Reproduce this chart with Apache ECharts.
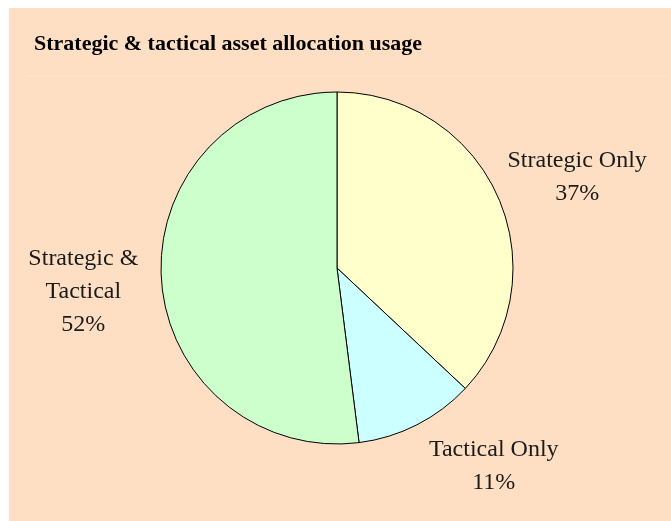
<!DOCTYPE html>
<html>
<head>
<meta charset="utf-8">
<script src="https://cdn.jsdelivr.net/npm/echarts@6/dist/echarts.min.js"></script>
<style>
html,body{margin:0;padding:0;background:#fff;}
#chart{width:671px;height:521px;}
</style>
</head>
<body>
<div id="chart"></div>
<script>
// ---- data ----
const titleText = 'Strategic & tactical asset allocation usage';
const categories = ['Strategic Only', 'Tactical Only', 'Strategic &\nTactical'];
const values = [37, 11, 52];
const sliceColors = ['#FFFFCC', '#CCFFFF', '#CCFFCC'];

// ---- label placement tuning (style, not data) ----
const labelLen = [53, 46, 0];
const labelLen2 = [30, 56, 78];
const labelShiftY = [0, 0, 13];

const peach = '#FEDFC3';
const serif = '"Liberation Serif", "Times New Roman", serif';

const chart = echarts.init(document.getElementById('chart'), null, {renderer: 'canvas'});

const pieData = categories.map((c, i) => ({
  name: c,
  value: values[i],
  itemStyle: {color: sliceColors[i]},
  labelLine: {show: false, length: labelLen[i], length2: labelLen2[i]}
}));

chart.setOption({
  backgroundColor: '#ffffff',
  animation: false,
  graphic: [
    {type: 'rect', z: -10, shape: {x: 9, y: 8, width: 662, height: 513}, style: {fill: peach}},
    {type: 'line', z: -9, shape: {x1: 26, y1: 76, x2: 668, y2: 76}, style: {stroke: '#FFE7D3', lineWidth: 1}}
  ],
  title: {
    text: titleText,
    left: 29,
    top: 28,
    textStyle: {fontFamily: serif, fontWeight: 'bold', fontSize: 22, color: '#000'}
  },
  series: [{
    type: 'pie',
    center: [337, 268],
    radius: 176,
    startAngle: 90,
    clockwise: true,
    avoidLabelOverlap: false,
    itemStyle: {borderColor: '#000', borderWidth: 1},
    emphasis: {disabled: true},
    label: {
      show: true,
      position: 'outside',
      alignTo: 'none',
      distanceToLabelLine: 0,
      width: 220,
      formatter: p => p.name + '\n' + p.percent.toFixed(0) + '%',
      fontFamily: serif,
      fontSize: 24,
      lineHeight: 33,
      color: '#1a1a1a'
    },
    labelLine: {show: false},
    labelLayout: function (p) {
      return {align: 'center', verticalAlign: 'middle', dy: labelShiftY[p.dataIndex]};
    },
    data: pieData
  }]
});
</script>
</body>
</html>
